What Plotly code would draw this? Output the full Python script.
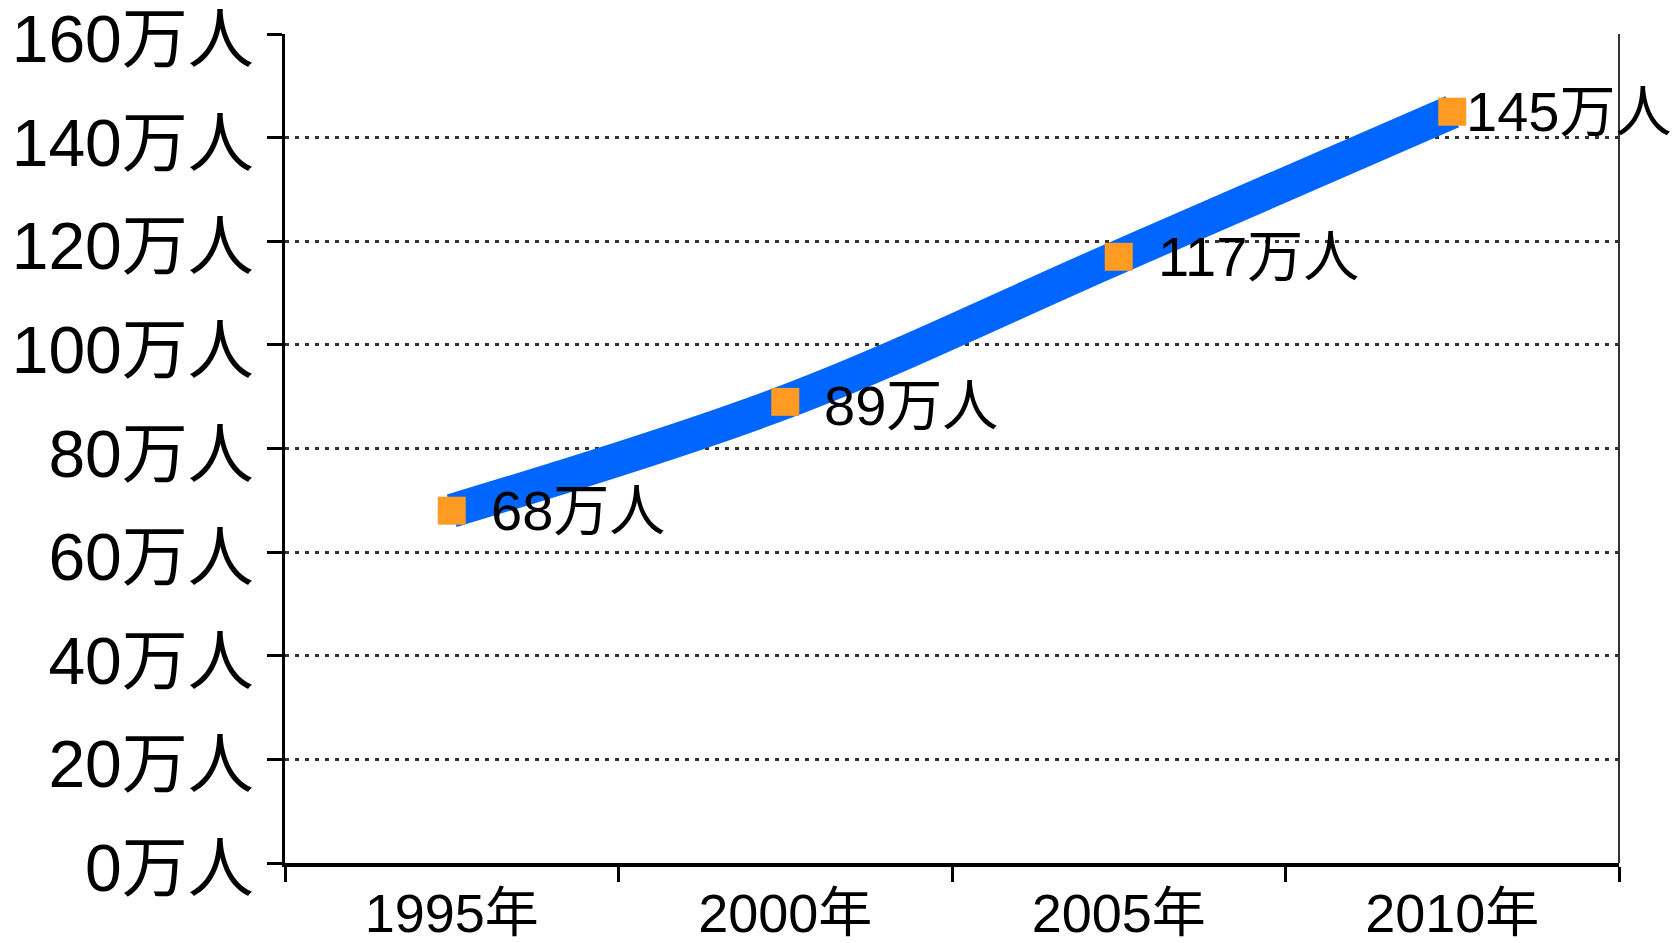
import plotly.graph_objects as go

years = ["1995年", "2000年", "2005年", "2010年"]
values = [68, 89, 117, 145]
point_labels = ["68万人", "89万人", "117万人", "145万人"]
label_xshift = [37, 37, 37, 12]
label_yshift = [0, -4, 0, 0]
y_tick_vals = [0, 20, 40, 60, 80, 100, 120, 140, 160]
y_tick_text = ["0万人", "20万人", "40万人", "60万人", "80万人", "100万人", "120万人", "140万人", "160万人"]

FONT = "Liberation Sans, Arial, Noto Sans CJK JP, sans-serif"

fig = go.Figure()
fig.add_trace(go.Scatter(
    x=years, y=values, mode="lines+markers",
    line=dict(color="#0066FF", width=34, shape="spline", smoothing=1),
    marker=dict(symbol="square", size=28, color="#FF9A22", line=dict(width=0)),
    hoverinfo="skip", showlegend=False,
))

for x, v, t, xs, ys in zip(years, values, point_labels, label_xshift, label_yshift):
    fig.add_annotation(x=x, y=v, text=t, showarrow=False, xanchor="left", yanchor="middle",
                       xshift=xs, yshift=ys, font=dict(family=FONT, size=56, color="#000000"))

# right border of plot area
fig.add_shape(type="line", xref="x domain", yref="y domain", x0=1, x1=1, y0=0, y1=1,
              line=dict(color="#333333", width=2))

fig.update_layout(
    width=1678, height=943, autosize=False,
    margin=dict(l=285, r=59, t=34, b=80),
    paper_bgcolor="white", plot_bgcolor="white",
    font=dict(family=FONT, color="#000000"),
    xaxis=dict(
        type="category", categoryorder="array", categoryarray=years,
        range=[-0.5, 3.5], tickson="boundaries", automargin=False,
        ticks="outside", ticklen=15, tickwidth=2.5, tickcolor="#000000",
        showline=True, linewidth=4, linecolor="#000000",
        showgrid=False, zeroline=False,
        tickfont=dict(family=FONT, size=54, color="#000000"),
    ),
    yaxis=dict(
        range=[0, 160], tickmode="array", tickvals=y_tick_vals, ticktext=y_tick_text,
        automargin=False, ticklabeloverflow="allow", ticklabelshift=5,
        ticks="outside", ticklen=15, tickwidth=3, tickcolor="#000000",
        showline=True, linewidth=3, linecolor="#000000",
        showgrid=True, gridcolor="#333333", gridwidth=2.5, griddash="4px,6px",
        zeroline=False,
        tickfont=dict(family=FONT, size=66, color="#000000"),
    ),
)

fig.write_html("out.html")
